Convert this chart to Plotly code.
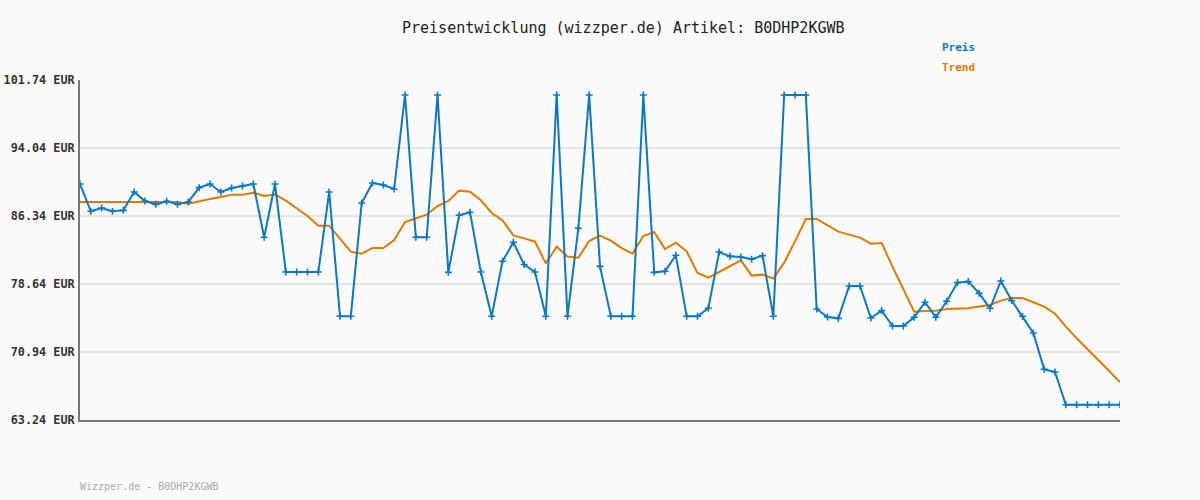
import plotly.graph_objects as go

preis = [
    89.96, 86.87, 87.25, 86.87, 86.98, 89.06, 88.04, 87.66, 88.00, 87.66,
    87.93, 89.55, 89.96, 89.06, 89.51, 89.74, 89.96, 83.93, 89.96, 80.00,
    80.00, 80.00, 80.00, 89.06, 74.98, 74.98, 87.81, 90.08, 89.85, 89.40,
    100.04, 83.93, 83.93, 100.04, 79.96, 86.42, 86.76, 80.00, 74.98, 81.21,
    83.36, 80.84, 80.00, 74.98, 100.04, 74.98, 84.95, 100.04, 80.64, 74.98,
    74.98, 74.98, 100.04, 79.96, 80.08, 81.89, 74.98, 74.98, 75.89, 82.26,
    81.77, 81.70, 81.44, 81.85, 74.98, 100.04, 100.04, 100.04, 75.81, 74.90,
    74.75, 78.41, 78.41, 74.79, 75.63, 73.88, 73.88, 74.87, 76.57, 74.87,
    76.68, 78.80, 78.91, 77.58, 75.89, 78.98, 76.76, 74.98, 73.09, 68.98,
    68.67, 64.97, 64.97, 64.97, 64.97, 64.97, 64.97,
]

trend = [
    87.93, 87.93, 87.93, 87.93, 87.93, 87.93, 87.93, 87.93, 87.93, 87.93,
    87.74, 88.04, 88.27, 88.49, 88.76, 88.76, 88.98, 88.60, 88.76, 88.08,
    87.21, 86.34, 85.25, 85.25, 83.78, 82.30, 82.08, 82.72, 82.72, 83.62,
    85.66, 86.04, 86.49, 87.47, 88.04, 89.21, 89.10, 88.12, 86.68, 85.85,
    84.15, 83.81, 83.43, 80.98, 82.87, 81.74, 81.62, 83.51, 84.11, 83.55,
    82.70, 82.08, 84.07, 84.53, 82.60, 83.32, 82.34, 79.89, 79.36, 80.00,
    80.64, 81.32, 79.59, 79.70, 79.25, 81.06, 83.47, 86.00, 86.00, 85.25,
    84.57, 84.23, 83.89, 83.21, 83.28, 80.60, 77.99, 75.51, 75.58, 75.60,
    75.81, 75.81, 75.89, 76.08, 76.26, 76.76, 77.05, 77.05, 76.60, 76.08,
    75.28, 73.81, 72.49, 71.28, 70.11, 68.79, 67.51,
]

x_idx = list(range(len(preis)))

tick_vals = [63.24, 70.94, 78.64, 86.34, 94.04, 101.74]
tick_text = ["63.24 EUR", "70.94 EUR", "78.64 EUR", "86.34 EUR", "94.04 EUR", "101.74 EUR"]

title_text = "Preisentwicklung (wizzper.de) Artikel: B0DHP2KGWB"
footer_text = "Wizzper.de - B0DHP2KGWB"

BLUE = "#0b78c6"
ORANGE = "#e07a00"
MONO = "DejaVu Sans Mono, Liberation Mono, monospace"

fig = go.Figure()
fig.add_trace(go.Scatter(
    x=x_idx, y=trend, mode="lines", name="Trend",
    line=dict(color=ORANGE, width=2),
))
fig.add_trace(go.Scatter(
    x=x_idx, y=preis, mode="lines+markers", name="Preis",
    line=dict(color=BLUE, width=2),
    marker=dict(symbol="cross-thin", size=5, line=dict(color=BLUE, width=1.6)),
))

fig.update_layout(
    width=1200, height=500,
    margin=dict(l=80, r=80, t=80, b=80),
    paper_bgcolor="#fafafa", plot_bgcolor="#fafafa",
    showlegend=False,
    xaxis=dict(
        range=[0, len(preis) - 1], showgrid=False, zeroline=False,
        showticklabels=False, ticks="", automargin=False,
        showline=True, linecolor="#777777", linewidth=2,
    ),
    yaxis=dict(
        range=[63.24, 101.74], tickvals=tick_vals, ticktext=tick_text,
        showgrid=True, gridcolor="#e4e4e4", gridwidth=2, zeroline=False,
        showline=True, linecolor="#777777", linewidth=2, ticks="",
        ticklabelstandoff=1, automargin=False,
        tickfont=dict(family=MONO, size=11.8, color="#333333", weight="bold"),
    ),
    annotations=[
        dict(text=title_text, xref="paper", yref="paper", x=0.523, y=1.153,
             xanchor="center", yanchor="middle", showarrow=False,
             font=dict(family=MONO, size=15, color="#222222")),
        dict(text="<b>Preis</b>", xref="paper", yref="paper", x=0.827, y=1.097,
             xanchor="left", yanchor="middle", showarrow=False,
             font=dict(family=MONO, size=11, color=BLUE)),
        dict(text="<b>Trend</b>", xref="paper", yref="paper", x=0.827, y=1.038,
             xanchor="left", yanchor="middle", showarrow=False,
             font=dict(family=MONO, size=11, color=ORANGE)),
        dict(text=footer_text, xref="paper", yref="paper", x=-0.002, y=-0.197,
             xanchor="left", yanchor="middle", showarrow=False,
             font=dict(family=MONO, size=10, color="#aaaaaa")),
    ],
)

fig.write_html(
    "out.html",
    config={"displayModeBar": False},
    post_script="document.body.style.margin='0';document.body.style.background='#fafafa';",
)
